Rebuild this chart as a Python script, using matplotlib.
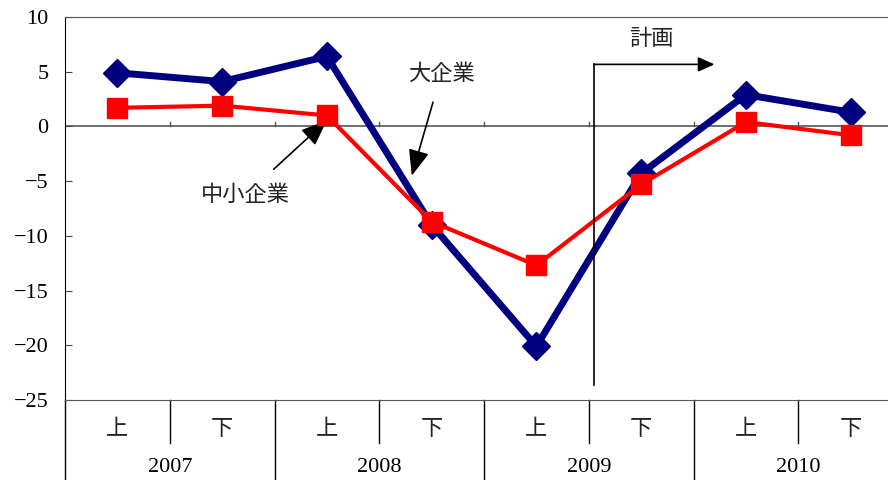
import matplotlib
matplotlib.use("Agg")
from matplotlib import pyplot as plt

plt.rcParams['font.family'] = ['Liberation Serif', 'Noto Sans CJK JP']

# half-year labels and years
halves = ['上', '下', '上', '下', '上', '下', '上', '下']
years = ['2007', '2008', '2009', '2010']

# series values
large_firms = [4.9, 4.1, 6.4, -9.0, -20.1, -4.3, 2.9, 1.3]
small_firms = [1.7, 1.9, 1.0, -8.7, -12.7, -5.3, 0.4, -0.8]

navy = '#000080'
red = '#ff0000'

fig = plt.figure(figsize=(8.88, 4.8), dpi=100)
ax = fig.add_axes([65 / 888, 80 / 480, 838 / 888, 383 / 480])

x = list(range(len(halves)))
ax.plot(x, large_firms, color=navy, linewidth=5, marker='D', markersize=14, zorder=3)
ax.plot(x, small_firms, color=red, linewidth=3, marker='s', markersize=14, zorder=4)

ax.set_xlim(-0.5, len(halves) - 0.5)
ax.set_ylim(-25, 10)
ax.set_yticks([10, 5, 0, -5, -10, -15, -20, -25])
ax.tick_params(axis='y', direction='in', length=5, labelsize=16, pad=12, color='#444444')
ax.set_xticks([])

ax.spines['right'].set_visible(False)
ax.spines['top'].set_color('#555555')
ax.spines['bottom'].set_color('#555555')
ax.spines['left'].set_color('black')

# zero line with small ticks at the half-year boundaries
ax.axhline(0, color='#555555', linewidth=1.2, zorder=1)
for b in range(1, len(halves)):
    ax.plot([b - 0.5, b - 0.5], [0, 0.4], color='#555555', linewidth=1, zorder=1)

# category axis below the plot
tr = ax.get_xaxis_transform()
ax.plot([-0.5, -0.5], [0, -0.21], transform=tr, color='black', linewidth=1, clip_on=False)
for b in range(1, len(halves)):
    depth = -0.21 if b % 2 == 0 else -0.112
    ax.plot([b - 0.5, b - 0.5], [0, depth], transform=tr, color='black',
            linewidth=1, clip_on=False)
for i, h in enumerate(halves):
    ax.text(i, -0.08, h, transform=tr, ha='center', va='center', fontsize=16, color='#222222')
for j, yr in enumerate(years):
    ax.text(2 * j + 0.5, -0.177, yr, transform=tr, ha='center', va='center', fontsize=16)

# forecast marker
ax.plot([4.55, 4.55], [-23.6, 5.67], color='black', linewidth=1.2, zorder=5)
ax.annotate('', xy=(5.7, 5.67), xytext=(4.55, 5.67),
            arrowprops=dict(arrowstyle='-|>,head_length=1.0,head_width=0.45',
                            color='black', linewidth=1.2, shrinkA=0, shrinkB=0))
ax.text(5.1, 7.9, '計画', ha='center', va='center', fontsize=16, color='#222222')

# series annotations
ax.annotate('大企業', xy=(2.81, -4.5), xytext=(3.09, 4.75), ha='center', va='center',
            fontsize=16, color='#222222',
            arrowprops=dict(arrowstyle='-|>,head_length=1.0,head_width=0.4',
                            color='black', linewidth=1.2, shrinkA=11, shrinkB=0))
ax.annotate('中小企業', xy=(2.0, 0.55), xytext=(1.22, -6.3), ha='center', va='center',
            fontsize=16, color='#222222',
            arrowprops=dict(arrowstyle='-|>,head_length=1.0,head_width=0.4',
                            color='black', linewidth=1.2, shrinkA=14, shrinkB=0))

fig.savefig('out.png', dpi=100)
